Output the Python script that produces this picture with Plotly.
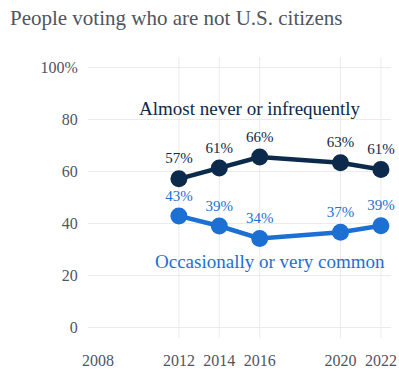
import plotly.graph_objects as go

years = [2012, 2014, 2016, 2020, 2022]
almost_never = [57.2, 61.4, 65.6, 63.4, 60.8]
occasionally = [42.9, 39.0, 34.2, 36.6, 39.1]
x_ticks = [2008, 2012, 2014, 2016, 2020, 2022]
y_ticks = [0, 20, 40, 60, 80, 100]
y_tick_labels = ["0", "20", "40", "60", "80", "100%"]

navy = "#0c2a4b"
blue = "#1c6fd3"
gray = "#50555f"
font = "Liberation Serif"

fig = go.Figure()
for vals, col in [(almost_never, navy), (occasionally, blue)]:
    fig.add_trace(go.Scatter(
        x=years, y=vals, mode="lines+markers+text",
        line=dict(color=col, width=4.5),
        marker=dict(color=col, size=17),
        text=[f"{round(v)}%" for v in vals],
        textposition="top center",
        textfont=dict(family=font, size=15, color=col),
        cliponaxis=False, showlegend=False, hoverinfo="skip"))

fig.add_annotation(x=2015.5, y=84.5, text="Almost never or infrequently", showarrow=False,
                   font=dict(family=font, size=19, color=navy))
fig.add_annotation(x=2016.5, y=25.2, text="Occasionally or very common", showarrow=False,
                   font=dict(family=font, size=19, color=blue))

for yr in years:
    fig.add_shape(type="line", x0=yr, x1=yr, y0=0, y1=1, yref="paper",
                  line=dict(color="#ebebeb", width=1), layer="below")

fig.update_layout(
    width=399, height=373,
    margin=dict(l=88, r=2, t=57, b=35),
    paper_bgcolor="white", plot_bgcolor="white",
    title=dict(text="People voting who are not U.S. citizens", x=0.025, xanchor="left",
               y=0.952, yanchor="middle",
               font=dict(family=font, size=21, color=gray)),
    xaxis=dict(range=[2007.5, 2022.5], tickvals=x_ticks, ticktext=[str(t) for t in x_ticks],
               showgrid=False, zeroline=False, showline=False,
               ticks="outside", ticklen=8, tickcolor="rgba(0,0,0,0)",
               ticklabeloverflow="allow",
               tickfont=dict(family=font, size=16, color=gray)),
    yaxis=dict(range=[-4.2, 104.2], tickvals=y_ticks, ticktext=y_tick_labels,
               showgrid=True, gridcolor="#ebebeb", zeroline=False, showline=False,
               ticks="outside", ticklen=6, tickcolor="rgba(0,0,0,0)",
               tickfont=dict(family=font, size=16, color=gray)),
)

fig.write_html("out.html", config={"displayModeBar": False},
               post_script="document.body.style.margin='0';")
